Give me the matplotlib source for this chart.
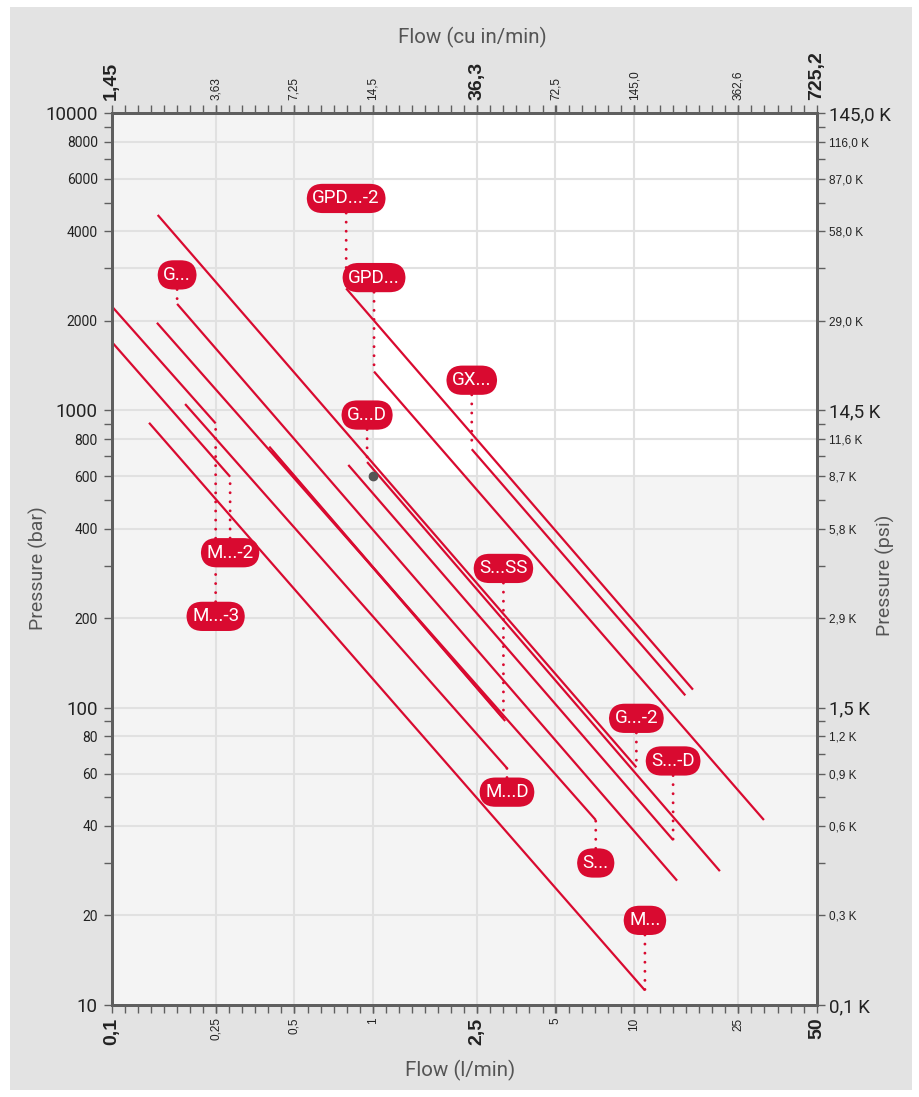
import numpy as np
import matplotlib
matplotlib.use("Agg")
import matplotlib.pyplot as plt
from matplotlib.patches import Rectangle
from matplotlib import font_manager
from matplotlib.ticker import NullFormatter

# --- data ---
names = ["G...-2", "G...D", "GPD...-2", "GPD...", "GX...", "G...", "S...-D",
         "S...", "M...D", "S...SS", "", "M...", "M...-3", "M...-2"]
q_start = [0.15, 0.95, 0.79, 1.01, 2.39, 0.178, 0.805, 0.149, 0.191, 0.401, 0.411, 0.139, 0.1, 0.1]
p_start = [4540, 670, 2570, 1350, 740, 2280, 655, 1970, 1050, 755, 732, 908, 2240, 1700]
q_end = [10.2, 21.3, 16.8, 31.4, 15.7, 14.6, 14.1, 7.13, 3.26, 3.16, 3.21, 11.0, 0.25, 0.284]
p_end = [63, 28.2, 115, 41.9, 110, 26.2, 35.9, 41.9, 62.6, 92, 90.2, 11.2, 904, 598]
label_at = ["end", "start", "start", "start", "start", "start", "end",
            "end", "end", "end", "", "end", "end", "end"]

flow_ticks = [0.1, 0.25, 0.5, 1, 2.5, 5, 10, 25, 50]
flow_labels = ["0,1", "0,25", "0,5", "1", "2,5", "5", "10", "25", "50"]
cuin_labels = ["1,45", "3,63", "7,25", "14,5", "36,3", "72,5", "145,0", "362,6", "725,2"]
flow_major = [0.1, 2.5, 50]

p_ticks = [10, 20, 40, 60, 80, 100, 200, 400, 600, 800, 1000, 2000, 4000, 6000, 8000, 10000]
bar_labels = ["10", "20", "40", "60", "80", "100", "200", "400", "600", "800",
              "1000", "2000", "4000", "6000", "8000", "10000"]
psi_labels = ["0,1 K", "0,3 K", "0,6 K", "0,9 K", "1,2 K", "1,5 K", "2,9 K", "5,8 K", "8,7 K",
              "11,6 K", "14,5 K", "29,0 K", "58,0 K", "87,0 K", "116,0 K", "145,0 K"]
p_major = [10, 100, 1000, 10000]
p_grid = [20, 40, 60, 80, 100, 200, 400, 600, 800, 1000, 2000, 3000, 4000, 6000, 8000]
flow_grid = [0.25, 0.5, 1, 2.5, 5, 10, 25]

# label offsets in pixels (layout only)
label_dy = [49, 47, 90, 94, 69, 29, 79, -43, -24, 150, 0, 70, -193, -76]

RED = "#d90a30"
AX_COL = "#5f5f5f"
TXT = "#555555"

installed = {f.name for f in font_manager.fontManager.ttflist}
NARROW = "Liberation Sans Narrow" if "Liberation Sans Narrow" in installed else "Roboto"
WIDE = "Liberation Sans"

W, H = 919, 1097
fig = plt.figure(figsize=(W / 100, H / 100), dpi=100)
fig.patch.set_facecolor("white")
fig.patches.append(Rectangle((10 / W, 7 / H), 902 / W, 1083 / H, transform=fig.transFigure,
                             fc="#e3e3e3", ec="none", zorder=-10))

left, right, top, bottom = 111.7, 816.7, 113, 1005
ax = fig.add_axes([left / W, 1 - bottom / H, (right - left) / W, (bottom - top) / H])
ax.set_facecolor("#f4f4f4")
ax.set_xscale("log")
ax.set_yscale("log")
ax.set_xlim(0.1, 50)
ax.set_ylim(10, 10000)
ax.add_patch(Rectangle((1, 600), 49, 9400, fc="white", ec="none", zorder=0))

for g in p_grid:
    ax.axhline(g, color="#e1e1e1", lw=1.5, zorder=0.5)
for g in flow_grid:
    ax.axvline(g, color="#e1e1e1", lw=1.5, zorder=0.5)

# product lines
for i in range(len(q_start)):
    ax.plot([q_start[i], q_end[i]], [p_start[i], p_end[i]], color=RED, lw=1.6,
            solid_capstyle="butt", zorder=3)

ax.plot([1], [600], "o", color="#555555", ms=6, zorder=4)

# labels
order = [i for i in range(len(names)) if names[i]]
order.sort(key=lambda i: 0 if names[i] == "M...-3" else 1)
for i in order:
    if label_at[i] == "start":
        xy = (q_start[i], p_start[i])
    else:
        xy = (q_end[i], p_end[i])
    ax.annotate(names[i], xy=xy, xytext=(0, label_dy[i]), textcoords="offset pixels",
                ha="center", va="center", color="white", fontsize=13.5, family=NARROW,
                bbox=dict(boxstyle="round,pad=0.3,rounding_size=0.85", fc=RED, ec="none"),
                arrowprops=dict(arrowstyle="-", color=RED, lw=2.1, linestyle=(0, (0.01, 3.1)),
                                capstyle="round", shrinkA=0, shrinkB=0),
                zorder=6)

# ticks bottom / left
minor_x = 10 ** np.linspace(-1, np.log10(50), 55)
minor_y = [v * m for v in [10, 100, 1000] for m in range(1, 10)]


def style_axis(a):
    for s in a.spines.values():
        s.set_color(AX_COL)
        s.set_linewidth(2)
    a.tick_params(which="both", color=AX_COL, width=1, length=6, direction="out")


style_axis(ax)
ax.set_xticks(flow_ticks)
ax.set_xticklabels(flow_labels, rotation=90, family=WIDE)
ax.set_xticks(minor_x, minor=True)
ax.xaxis.set_minor_formatter(NullFormatter())
for t, v in zip(ax.get_xticklabels(), flow_ticks):
    if v in flow_major:
        t.set_fontsize(14)
        t.set_fontweight("bold")
    else:
        t.set_fontsize(8.5)
    t.set_color("#222222")

ax.set_yticks(p_ticks)
ax.set_yticklabels(bar_labels, family=NARROW)
ax.set_yticks(minor_y, minor=True)
ax.yaxis.set_minor_formatter(NullFormatter())
for t, v in zip(ax.get_yticklabels(), p_ticks):
    t.set_fontsize(13.5 if v in p_major else 10)
    t.set_color("#222222")
ax.tick_params(axis="y", pad=4)
ax.tick_params(axis="x", pad=3)

# right axis (psi)
axr = ax.twinx()
axr.set_yscale("log")
axr.set_ylim(10, 10000)
style_axis(axr)
axr.set_yticks(p_ticks)
axr.set_yticklabels(psi_labels)
axr.set_yticks(minor_y, minor=True)
axr.yaxis.set_minor_formatter(NullFormatter())
for t, v in zip(axr.get_yticklabels(), p_ticks):
    if v in p_major:
        t.set_fontsize(13.5)
        t.set_family(NARROW)
    else:
        t.set_fontsize(8.5)
        t.set_family(WIDE)
    t.set_color("#222222")
axr.tick_params(axis="y", pad=3)

# top axis (cu in/min)
axt = ax.twiny()
axt.set_xscale("log")
axt.set_xlim(0.1, 50)
style_axis(axt)
axt.set_xticks(flow_ticks)
axt.set_xticklabels(cuin_labels, rotation=90, family=WIDE)
axt.set_xticks(minor_x, minor=True)
axt.xaxis.set_minor_formatter(NullFormatter())
for t, v in zip(axt.get_xticklabels(), flow_ticks):
    if v in flow_major:
        t.set_fontsize(14)
        t.set_fontweight("bold")
    else:
        t.set_fontsize(8.5)
    t.set_color("#222222")
axt.tick_params(axis="x", pad=3)

# axis titles
fig.text(472 / W, 1 - 37 / H, "Flow (cu in/min)", ha="center", va="center",
         fontsize=14.8, color=TXT, family=NARROW)
fig.text(460 / W, 1 - 1070 / H, "Flow (l/min)", ha="center", va="center",
         fontsize=14.8, color=TXT, family=NARROW)
fig.text(38 / W, 1 - 568 / H, "Pressure (bar)", ha="center", va="center",
         fontsize=14, color=TXT, family=NARROW, rotation=90)
fig.text(885 / W, 1 - 575 / H, "Pressure (psi)", ha="center", va="center",
         fontsize=14, color=TXT, family=NARROW, rotation=90)

fig.savefig("out.png", dpi=100, facecolor=fig.get_facecolor())
